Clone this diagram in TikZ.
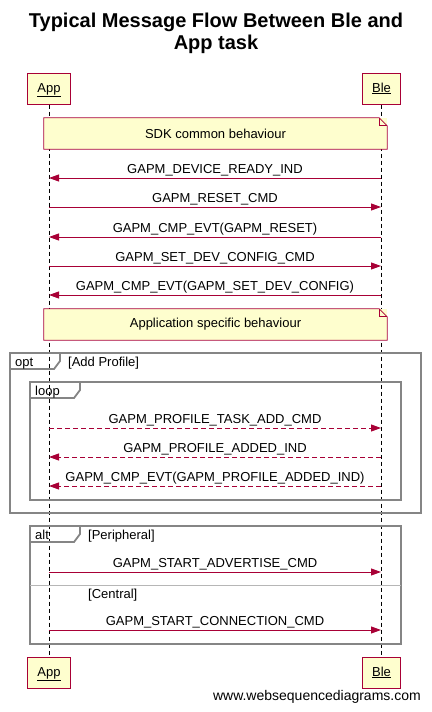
\documentclass[tikz,border=0pt]{standalone}
\usepackage{fontspec}
\setmainfont{Liberation Sans}
\usetikzlibrary{arrows.meta,calc}

\definecolor{wsdred}{HTML}{A80036}
\definecolor{wsdfill}{HTML}{FEFECE}
\definecolor{wsdgray}{HTML}{858585}

\tikzset{
	actor/.style={draw=wsdred, fill=wsdfill, line width=1pt, inner xsep=10pt,
		text height=9.5pt, text depth=2.5pt, minimum height=31pt,
		font=\fontsize{13}{15}\selectfont},
	note/.style={fill=wsdfill, minimum width=343pt, minimum height=31pt,
		font=\fontsize{13}{15}\selectfont},
	lifeline/.style={draw=black, line width=0.8pt, dash pattern=on 4pt off 3pt},
	msg/.style={draw=wsdred, line width=0.9pt, -{Triangle[length=10pt,width=7pt]}},
	reply/.style={msg, dash pattern=on 5pt off 3pt},
	msglabel/.style={above, inner sep=0pt, yshift=1pt, font=\fontsize{13}{15}\selectfont},
	frame/.style={draw=wsdgray, line width=1.8pt},
	framelabel/.style={anchor=base west, inner sep=0pt, font=\fontsize{13}{15}\selectfont}
}

\begin{document}
\begin{tikzpicture}[x=1pt, y=-1pt]
		\useasboundingbox (0,0) rectangle (431,712);

		\node[align=center, font=\fontsize{20}{22}\selectfont\bfseries] (title) at (216,33)
			{Typical Message Flow Between Ble and\\App task};

		% participants
		\node[actor] (app) at (49,88.5) {\underline{App}};
		\node[actor] (ble) at (381.5,88.5) {\underline{Ble}};
		\node[actor] (appb) at (49,672.5) {\underline{App}};
		\node[actor] (bleb) at (381.5,672.5) {\underline{Ble}};

		\draw[lifeline] (app) -- (appb);
		\draw[lifeline] (ble) -- (bleb);

		% notes
		\node[note] (sdk) at (215.5,133.5) {SDK common behaviour};
		\draw[wsdred, line width=0.8pt] (sdk.north west) -- ($(sdk.north east)+(-8,0)$)
			-- ($(sdk.north east)+(0,8)$) -- (sdk.south east) -- (sdk.south west) -- cycle;
		\draw[wsdred, line width=0.8pt] ($(sdk.north east)+(-8,0)$) -- ++(0,8) -- ++(8,0);

		\node[note] (spec) at (215.5,324.5) {Application specific behaviour};
		\draw[wsdred, line width=0.8pt] (spec.north west) -- ($(spec.north east)+(-8,0)$)
			-- ($(spec.north east)+(0,8)$) -- (spec.south east) -- (spec.south west) -- cycle;
		\draw[wsdred, line width=0.8pt] ($(spec.north east)+(-8,0)$) -- ++(0,8) -- ++(8,0);

		% message points on the lifelines
		\coordinate (a1) at (49,178);  \coordinate (b1) at (381,178);
		\coordinate (a2) at (49,207);  \coordinate (b2) at (381,207);
		\coordinate (a3) at (49,237);  \coordinate (b3) at (381,237);
		\coordinate (a4) at (49,266);  \coordinate (b4) at (381,266);
		\coordinate (a5) at (49,295);  \coordinate (b5) at (381,295);
		\coordinate (a6) at (49,428);  \coordinate (b6) at (381,428);
		\coordinate (a7) at (49,457);  \coordinate (b7) at (381,457);
		\coordinate (a8) at (49,486);  \coordinate (b8) at (381,486);
		\coordinate (a9) at (49,572);  \coordinate (b9) at (381,572);
		\coordinate (a10) at (49,630); \coordinate (b10) at (381,630);

		\draw[msg] (b1) -- (a1) node[msglabel, midway] {GAPM\_DEVICE\_READY\_IND};
		\draw[msg] (a2) -- (b2) node[msglabel, midway] {GAPM\_RESET\_CMD};
		\draw[msg] (b3) -- (a3) node[msglabel, midway] {GAPM\_CMP\_EVT(GAPM\_RESET)};
		\draw[msg] (a4) -- (b4) node[msglabel, midway] {GAPM\_SET\_DEV\_CONFIG\_CMD};
		\draw[msg] (b5) -- (a5) node[msglabel, midway] {GAPM\_CMP\_EVT(GAPM\_SET\_DEV\_CONFIG)};

		% opt frame
		\draw[frame] (10,353) rectangle (421,513);
		\draw[frame] (10,369) -- (54,369) -- (60,361) -- (60,353);
		\node[framelabel] (opt) at (15,366) {opt};
		\node[framelabel] (optc) at (68,366) {[Add Profile]};

		% loop frame
		\draw[frame] (30,382) rectangle (401,500);
		\draw[frame] (30,398) -- (74,398) -- (80,390) -- (80,382);
		\node[framelabel] (loop) at (35,395) {loop};

		\draw[reply] (a6) -- (b6) node[msglabel, midway] {GAPM\_PROFILE\_TASK\_ADD\_CMD};
		\draw[reply] (b7) -- (a7) node[msglabel, midway] {GAPM\_PROFILE\_ADDED\_IND};
		\draw[reply] (b8) -- (a8) node[msglabel, midway] {GAPM\_CMP\_EVT(GAPM\_PROFILE\_ADDED\_IND)};

		% alt frame
		\draw[frame] (30,526) rectangle (401,644);
		\draw[frame] (30,542) -- (74,542) -- (80,534) -- (80,526);
		\draw[wsdgray!60, line width=1pt] (30,585) -- (401,585);
		\node[framelabel] (alt) at (35,539) {alt};
		\node[framelabel] (altp) at (88,539) {[Peripheral]};
		\node[framelabel] (altc) at (88,598) {[Central]};

		\draw[msg] (a9) -- (b9) node[msglabel, midway] {GAPM\_START\_ADVERTISE\_CMD};
		\draw[msg] (a10) -- (b10) node[msglabel, midway] {GAPM\_START\_CONNECTION\_CMD};

		\node[anchor=east, inner sep=0pt, font=\fontsize{14}{16}\selectfont] (wsd) at (421,697)
			{www.websequencediagrams.com};
	\end{tikzpicture}
\end{document}
